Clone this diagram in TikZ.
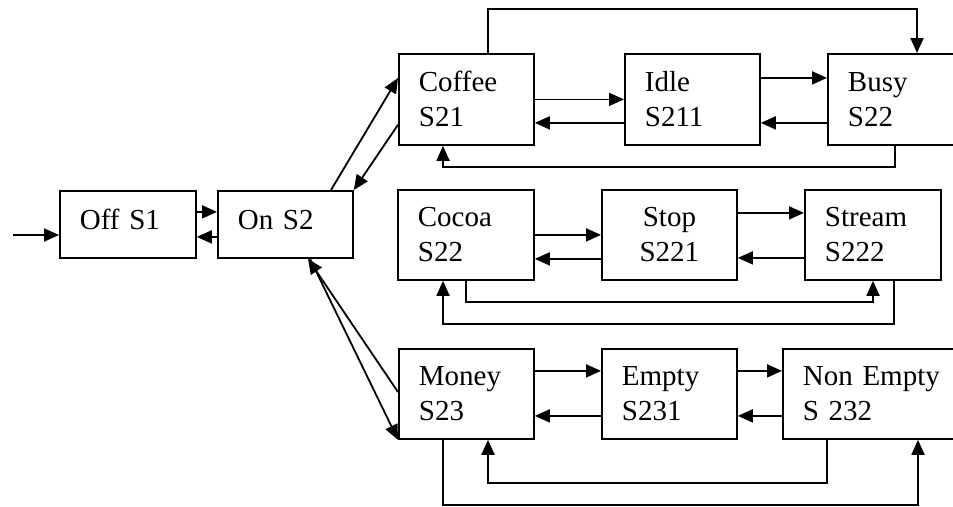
\documentclass[tikz,border=0pt]{standalone}
\usepackage{fontspec}
\setmainfont{Liberation Serif}
\usetikzlibrary{arrows.meta}
\tikzset{
  statebox/.style={draw, line width=1.8pt, rectangle, anchor=north west,
    inner xsep=20pt, inner ysep=0pt, align=left,
    font=\fontsize{29}{35}\selectfont},
  oneline/.style={text depth=10pt},
  arr/.style={line width=1.8pt, -{Triangle[length=15pt,width=13pt]}}
}
\begin{document}
\begin{tikzpicture}[x=1pt,y=-1pt]
\useasboundingbox (0,0) rectangle (953,506);
\clip (0,0) rectangle (953,506);

% states
\node[statebox, oneline, text width=96pt, minimum height=67pt] (off) at (59,190) {Off S1};
\node[statebox, oneline, text width=95pt, minimum height=67pt] (on) at (217,190) {On S2};

\node[statebox, text width=95pt, minimum height=91pt] (coffee) at (398,53) {Coffee\\S21};
\node[statebox, text width=95pt, minimum height=91pt] (idle) at (624,53) {Idle\\S211};
\node[statebox, text width=100pt, minimum height=91pt] (busy) at (827,53) {Busy\\S22};

\node[statebox, text width=96pt, minimum height=90pt] (cocoa) at (397,189) {Cocoa\\S22};
\node[statebox, text width=95pt, minimum height=90pt, align=center] (stop) at (601,189) {Stop\\S221};
\node[statebox, text width=96pt, minimum height=90pt] (stream) at (804,189) {Stream\\S222};

\node[statebox, text width=95pt, minimum height=90pt] (money) at (398,348) {Money\\S23};
\node[statebox, text width=95pt, minimum height=90pt] (empty) at (601,348) {Empty\\S231};
\node[statebox, text width=140pt, minimum height=90pt] (nonempty) at (782,348) {Non Empty\\S 232};

% initial transition
\coordinate (start) at (13,235);
\draw[arr] (start) -- (start -| off.west);

% Off <-> On
\draw[arr] ([yshift=12.5pt]off.east) -- ([yshift=12.5pt]on.west);
\draw[arr] ([yshift=-12.5pt]on.west) -- ([yshift=-12.5pt]off.east);

% On <-> Coffee
\draw[arr] ([xshift=114pt]on.north west) -- ([yshift=-25pt]coffee.north west);
\draw[arr] ([yshift=21pt]coffee.south west) -- (on.north east);

% On <-> Money
\draw[arr] ([yshift=-44pt]money.north west) -- ([xshift=91pt]on.south west);
\draw[arr] ([xshift=93pt]on.south west) -- (money.south west);

% Coffee row
\draw[arr] (coffee.east) -- (coffee.east -| idle.west);
\draw[arr] ([yshift=-23.5pt]idle.west) -- ([yshift=-23.5pt]coffee.east);
\draw[arr] ([yshift=21.5pt]idle.east) -- ([yshift=21.5pt]idle.east -| busy.west);
\draw[arr] ([yshift=-23.5pt]busy.west) -- ([yshift=-23.5pt]idle.east);
\coordinate (t1) at (488,9);
\coordinate (t2) at (917,9);
\draw[arr] (t1 |- coffee.north) -- (t1) -- (t2) -- (t2 |- busy.north);
\coordinate (b1) at (895,167);
\coordinate (b2) at (443,167);
\draw[arr] (b1 |- busy.south) -- (b1) -- (b2) -- (b2 |- coffee.south);

% Cocoa row
\draw[arr] (cocoa.east) -- (cocoa.east -| stop.west);
\draw[arr] ([yshift=-24pt]stop.west) -- ([yshift=-24pt]cocoa.east);
\draw[arr] ([yshift=22pt]stop.east) -- ([yshift=22pt]stop.east -| stream.west);
\draw[arr] ([yshift=-23pt]stream.west) -- ([yshift=-23pt]stop.east);
\coordinate (c1) at (466,302);
\coordinate (c2) at (873,302);
\draw[arr] (c1 |- cocoa.south) -- (c1) -- (c2) -- (c2 |- stream.south);
\coordinate (c3) at (894,324);
\coordinate (c4) at (443,324);
\draw[arr] (c3 |- stream.south) -- (c3) -- (c4) -- (c4 |- cocoa.south);

% Money row
\draw[arr] ([yshift=23pt]money.east) -- ([yshift=23pt]money.east -| empty.west);
\draw[arr] ([yshift=-22pt]empty.west) -- ([yshift=-22pt]money.east);
\draw[arr] ([yshift=23pt]empty.east) -- ([yshift=23pt]empty.east -| nonempty.west);
\draw[arr] ([yshift=-22pt]nonempty.west) -- ([yshift=-22pt]empty.east);
\coordinate (m1) at (827,483);
\coordinate (m2) at (488,483);
\draw[arr] (m1 |- nonempty.south) -- (m1) -- (m2) -- (m2 |- money.south);
\coordinate (m3) at (443,505);
\coordinate (m4) at (918,505);
\draw[arr] (m3 |- money.south) -- (m3) -- (m4) -- (m4 |- nonempty.south);
\end{tikzpicture}
\end{document}
